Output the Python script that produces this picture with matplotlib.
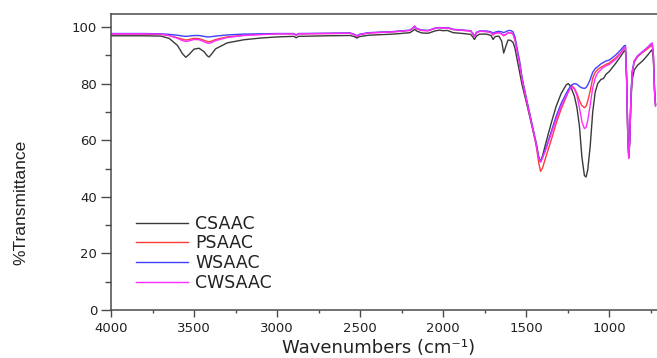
import matplotlib
matplotlib.use("Agg")
import matplotlib.pyplot as plt
from matplotlib.ticker import MultipleLocator

wavenumber = [4000, 3800, 3700, 3650, 3600, 3570, 3550, 3530, 3500, 3470, 3440, 3420, 3410, 3395, 3370,
              3300, 3200, 3100, 3000, 2900, 2885, 2870, 2700, 2560, 2535, 2520, 2505, 2450, 2300, 2200,
              2185, 2172, 2160, 2130, 2090, 2050, 2025, 2000, 1975, 1940, 1880, 1835, 1822, 1812, 1800,
              1780, 1740, 1712, 1700, 1688, 1665, 1648, 1636, 1624, 1610, 1595, 1580, 1568, 1555, 1540,
              1525, 1500, 1470, 1440, 1425, 1414, 1402, 1380, 1350, 1320, 1290, 1260, 1248, 1235, 1225,
              1210, 1195, 1180, 1165, 1150, 1140, 1130, 1115, 1100, 1085, 1070, 1050, 1035, 1020, 1000,
              960, 930, 910, 903, 896, 889, 883, 877, 870, 862, 850, 830, 800, 770, 750, 742, 735, 728, 722]

csaac = [96.9, 96.9, 96.8, 96.0, 93.5, 90.6, 89.3, 90.3, 92.2, 92.5, 91.3, 89.8, 89.4, 90.4, 92.3,
         94.4, 95.5, 96.1, 96.5, 96.7, 96.2, 96.7, 96.9, 97.0, 96.6, 96.1, 96.6, 97.1, 97.5, 98.0,
         98.6, 99.2, 98.6, 97.9, 97.8, 98.6, 98.9, 98.7, 98.8, 98.0, 97.7, 97.4, 96.5, 95.6, 96.8,
         97.5, 97.5, 97.0, 95.6, 96.6, 96.8, 95.0, 90.8, 93.0, 95.4, 95.3, 94.6, 92.5, 88.5, 84.0,
         79.5, 73.5, 66.0, 58.5, 54.0, 52.4, 54.5, 59.5, 66.0, 72.0, 76.5, 79.5, 80.0, 79.2, 77.8,
         75.5, 71.5, 65.0, 54.0, 47.5, 47.0, 49.5, 58.0, 70.0, 77.0, 80.0, 81.5, 81.8, 83.3, 84.3,
         87.3, 89.8, 91.6, 91.8, 82.0, 62.0, 54.0, 60.0, 74.0, 81.5, 84.8, 86.5, 88.0, 90.0, 91.5, 92.0, 89.0, 78.0, 72.5]

psaac = [97.5, 97.5, 97.4, 97.0, 96.2, 95.7, 95.4, 95.6, 96.0, 95.9, 95.3, 94.9, 94.8, 95.0, 95.6,
         96.5, 97.1, 97.4, 97.6, 97.6, 97.1, 97.6, 97.7, 97.8, 97.3, 96.7, 97.3, 97.9, 98.3, 98.8,
         99.5, 100.3, 99.4, 98.8, 98.7, 99.5, 99.8, 99.6, 99.7, 99.1, 98.8, 98.6, 97.6, 96.6, 98.0,
         98.5, 98.4, 98.0, 97.2, 97.8, 98.0, 97.5, 96.9, 97.3, 97.9, 98.0, 97.5, 95.5, 91.5, 87.0,
         81.5, 74.5, 66.5, 58.0, 52.0, 49.0, 50.2, 54.5, 60.0, 66.0, 71.0, 75.2, 77.0, 78.5, 79.2,
         78.3, 76.5, 74.0, 72.2, 71.5, 72.0, 73.8, 77.5, 82.0, 84.0, 85.0, 85.8, 86.3, 86.8, 87.3,
         89.2, 91.0, 92.6, 92.8, 82.0, 62.0, 53.6, 60.0, 75.0, 84.0, 87.5, 89.5, 91.0, 92.3, 93.3, 93.6, 90.0, 78.0, 72.5]

wsaac = [97.7, 97.7, 97.6, 97.4, 97.1, 96.8, 96.7, 96.8, 97.0, 97.0, 96.7, 96.5, 96.5, 96.6, 96.8,
         97.2, 97.5, 97.6, 97.7, 97.7, 97.2, 97.7, 97.8, 97.9, 97.4, 96.9, 97.4, 98.0, 98.4, 98.9,
         99.6, 100.2, 99.5, 98.9, 98.8, 99.6, 99.8, 99.7, 99.8, 99.2, 98.9, 98.7, 97.8, 96.8, 98.1,
         98.6, 98.6, 98.3, 97.8, 98.2, 98.5, 98.3, 98.0, 98.3, 98.7, 98.8, 98.3, 96.5, 92.5, 88.0,
         82.0, 75.0, 67.0, 59.0, 54.0, 52.4, 54.0, 57.5, 63.0, 68.5, 73.0, 76.5, 77.8, 79.0, 79.6,
         80.0, 79.8, 79.0, 78.5, 78.3, 78.6, 79.5, 81.5, 84.0, 85.3, 86.0, 87.0, 87.5, 88.0, 88.3,
         90.2, 92.0, 93.4, 93.5, 82.0, 62.0, 54.0, 60.0, 75.5, 84.5, 88.0, 89.8, 91.3, 92.8, 94.0, 94.3, 90.5, 78.0, 72.5]

cwsaac = [97.6, 97.6, 97.5, 97.0, 96.0, 95.2, 94.9, 95.1, 95.6, 95.5, 94.8, 94.3, 94.2, 94.5, 95.2,
          96.3, 97.0, 97.3, 97.6, 97.6, 97.1, 97.6, 97.7, 97.8, 97.3, 96.7, 97.3, 97.9, 98.3, 98.8,
          99.5, 100.3, 99.4, 98.8, 98.7, 99.5, 99.8, 99.6, 99.7, 99.1, 98.8, 98.6, 97.6, 96.6, 98.0,
          98.5, 98.4, 98.0, 97.2, 97.8, 98.0, 97.6, 97.0, 97.4, 97.9, 98.0, 97.5, 95.5, 91.5, 87.0,
          81.5, 74.5, 66.5, 58.5, 53.5, 52.3, 53.8, 57.0, 62.2, 67.5, 72.0, 75.5, 77.0, 78.3, 78.8,
          78.0, 75.8, 71.5, 66.5, 64.1, 64.5, 67.0, 72.5, 78.5, 82.0, 83.8, 85.0, 85.8, 86.3, 86.8,
          88.7, 90.8, 92.7, 92.9, 82.0, 62.0, 53.6, 60.0, 75.0, 84.0, 88.0, 89.8, 91.2, 92.7, 94.0, 94.3, 90.5, 77.0, 72.0]

series_names = ["CSAAC", "PSAAC", "WSAAC", "CWSAAC"]
series_values = [csaac, psaac, wsaac, cwsaac]
series_colors = ["#3a3a3a", "#ff3b3b", "#4040ff", "#ff2cff"]

x_ticks = [4000, 3500, 3000, 2500, 2000, 1500, 1000]
y_ticks = [0, 20, 40, 60, 80, 100]

fig = plt.figure(figsize=(6.57, 3.58), dpi=100)
ax = fig.add_axes([111/657, 48/358, 546/657, 296/358])

for name, vals, col in zip(series_names, series_values, series_colors):
    ax.plot(wavenumber, vals, color=col, lw=1.0, label=name)

ax.set_xlim(4000, 713)
ax.set_ylim(0, 104.6)
ax.set_xticks(x_ticks)
ax.set_xticklabels([str(v) for v in x_ticks])
ax.set_yticks(y_ticks)
ax.set_yticklabels([str(v) for v in y_ticks])
ax.xaxis.set_minor_locator(MultipleLocator(250))
ax.yaxis.set_minor_locator(MultipleLocator(10))

spine_col = "#4a4a4a"
for s in ["left", "bottom", "top"]:
    ax.spines[s].set_color(spine_col)
    ax.spines[s].set_linewidth(1.1)
ax.spines["right"].set_visible(False)

ax.tick_params(axis="x", which="major", direction="out", length=5, width=1, color=spine_col,
               pad=4, labelsize=9.5, labelcolor="#222222")
ax.tick_params(axis="x", which="minor", direction="out", length=2.5, width=1, color=spine_col)
ax.tick_params(axis="y", which="major", direction="out", length=7, width=1, color=spine_col,
               pad=3, labelsize=9.5, labelcolor="#222222")
ax.tick_params(axis="y", which="minor", direction="out", length=4, width=1, color=spine_col)
for lbl in ax.get_xticklabels() + ax.get_yticklabels():
    lbl.set_family("DejaVu Sans")

ax.set_xlabel("Wavenumbers (cm\u207b\u00b9)", fontsize=13, family="DejaVu Sans", color="#222222")
ax.xaxis.set_label_coords(0.49, -0.098)
ax.set_ylabel("%Transmittance", fontsize=12.5, family="Liberation Sans", color="#222222")
ax.yaxis.set_label_coords(-0.152, 0.365)

leg = ax.legend(loc="upper left", bbox_to_anchor=(0.046, 0.322), frameon=False,
                handlelength=3.0, handletextpad=0.4, labelspacing=0.1, borderpad=0,
                borderaxespad=0, prop={"family": "DejaVu Sans", "size": 12.5})
for t in leg.get_texts():
    t.set_color("#222222")

fig.savefig("out.png", dpi=100)
